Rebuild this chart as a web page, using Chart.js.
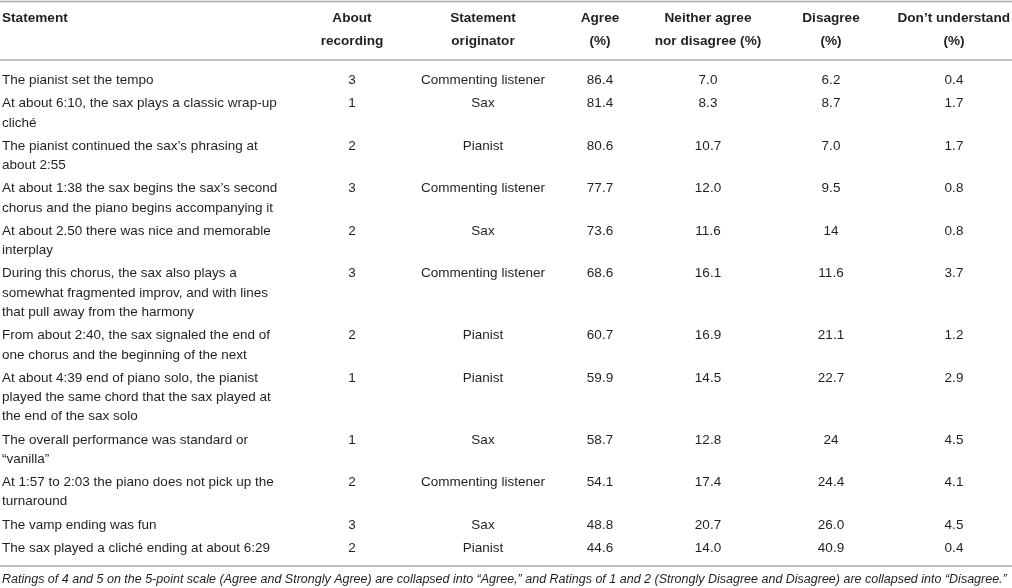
<!DOCTYPE html>
<html>
<head>
  <title>Statement ratings</title>
  <script src="https://cdn.jsdelivr.net/npm/chart.js"></script>
  <style>
    html, body { margin: 0; padding: 0; background: #fff; }
  </style>
</head>
<body>
  <canvas id="table-chart" width="1012" height="588"></canvas>
  <script>
    // Table data (statements are pre-split into their printed lines)
    const statements = [
      ['The pianist set the tempo'],
      ['At about 6:10, the sax plays a classic wrap-up', 'cliché'],
      ['The pianist continued the sax\u2019s phrasing at', 'about 2:55'],
      ['At about 1:38 the sax begins the sax\u2019s second', 'chorus and the piano begins accompanying it'],
      ['At about 2.50 there was nice and memorable', 'interplay'],
      ['During this chorus, the sax also plays a', 'somewhat fragmented improv, and with lines', 'that pull away from the harmony'],
      ['From about 2:40, the sax signaled the end of', 'one chorus and the beginning of the next'],
      ['At about 4:39 end of piano solo, the pianist', 'played the same chord that the sax played at', 'the end of the sax solo'],
      ['The overall performance was standard or', '\u201cvanilla\u201d'],
      ['At 1:57 to 2:03 the piano does not pick up the', 'turnaround'],
      ['The vamp ending was fun'],
      ['The sax played a cliché ending at about 6:29']
    ];
    const aboutRecording = [3, 1, 2, 3, 2, 3, 2, 1, 1, 2, 3, 2];
    const originator = ['Commenting listener', 'Sax', 'Pianist', 'Commenting listener', 'Sax', 'Commenting listener',
      'Pianist', 'Pianist', 'Sax', 'Commenting listener', 'Sax', 'Pianist'];
    const agree = ['86.4', '81.4', '80.6', '77.7', '73.6', '68.6', '60.7', '59.9', '58.7', '54.1', '48.8', '44.6'];
    const neither = ['7.0', '8.3', '10.7', '12.0', '11.6', '16.1', '16.9', '14.5', '12.8', '17.4', '20.7', '14.0'];
    const disagree = ['6.2', '8.7', '7.0', '9.5', '14', '11.6', '21.1', '22.7', '24', '24.4', '26.0', '40.9'];
    const dontUnderstand = ['0.4', '1.7', '1.7', '0.8', '0.8', '3.7', '1.2', '2.9', '4.5', '4.1', '4.5', '0.4'];
    const headers = [
      ['Statement'],
      ['About', 'recording'],
      ['Statement', 'originator'],
      ['Agree', '(%)'],
      ['Neither agree', 'nor disagree (%)'],
      ['Disagree', '(%)'],
      ['Don\u2019t understand', '(%)']
    ];
    const footnote = 'Ratings of 4 and 5 on the 5-point scale (Agree and Strongly Agree) are collapsed into \u201cAgree,\u201d and Ratings of 1 and 2 (Strongly Disagree and Disagree) are collapsed into \u201cDisagree.\u201d';

    // Layout (in scale units, which map 1:1 to the canvas)
    const colX = [2, 352, 483, 600, 708, 831, 954];
    const colAlign = ['left', 'center', 'center', 'center', 'center', 'center', 'center'];
    const headerY = [18, 41];
    const firstRowY = 80.5;
    const lineH = 19.3;
    const rowGap = 23.2;
    const rules = [1.5, 60, 566];
    const footY = 580;

    const rowY = [];
    let y = firstRowY;
    statements.forEach(lines => {
      rowY.push(y);
      y += (lines.length - 1) * lineH + rowGap;
    });

    const columns = [
      statements,
      aboutRecording.map(String),
      originator,
      agree,
      neither,
      disagree,
      dontUnderstand
    ];

    const datasets = columns.map((col, c) => ({
      label: headers[c].join(' '),
      texts: col,
      data: col.map((_, r) => ({ x: colX[c], y: rowY[r] })),
      pointRadius: 0,
      pointHoverRadius: 0
    }));

    const textColor = '#231f20';
    const ruleColor = '#a7a9ac';

    const tablePlugin = {
      id: 'tableText',
      afterDatasetsDraw(chart) {
        const ctx = chart.ctx;
        const xs = chart.scales.x;
        const ys = chart.scales.y;
        ctx.save();

        // rules
        ctx.strokeStyle = ruleColor;
        ctx.lineWidth = 1.5;
        rules.forEach(v => {
          const py = ys.getPixelForValue(v);
          ctx.beginPath();
          ctx.moveTo(xs.getPixelForValue(0), py);
          ctx.lineTo(xs.getPixelForValue(1012), py);
          ctx.stroke();
        });

        ctx.fillStyle = textColor;
        ctx.textBaseline = 'middle';

        // header
        ctx.font = 'bold 13.6px "Liberation Sans", Arial, sans-serif';
        headers.forEach((lines, c) => {
          ctx.textAlign = colAlign[c];
          const hx = c === headers.length - 1 ? 1010 : colX[c];
          lines.forEach((t, i) => {
            // the last header's first line is pinned to the right edge
            const align = (c === headers.length - 1 && i === 0) ? 'right' : colAlign[c];
            ctx.textAlign = align;
            ctx.fillText(t, xs.getPixelForValue(align === 'right' ? hx : colX[c]), ys.getPixelForValue(headerY[i]));
          });
        });

        // body cells
        ctx.font = '13.5px "Liberation Sans", Arial, sans-serif';
        const step = ys.getPixelForValue(lineH) - ys.getPixelForValue(0);
        chart.data.datasets.forEach((ds, c) => {
          const meta = chart.getDatasetMeta(c);
          ctx.textAlign = colAlign[c];
          meta.data.forEach((pt, r) => {
            const val = ds.texts[r];
            const lines = Array.isArray(val) ? val : [val];
            lines.forEach((t, i) => {
              ctx.fillText(t, pt.x, pt.y + i * step);
            });
          });
        });

        // footnote
        ctx.font = 'italic 12.5px "Liberation Sans", Arial, sans-serif';
        ctx.textAlign = 'left';
        ctx.fillText(footnote, xs.getPixelForValue(2), ys.getPixelForValue(footY));
        ctx.restore();
      }
    };

    const ctx = document.getElementById('table-chart').getContext('2d');
    new Chart(ctx, {
      type: 'scatter',
      data: { datasets: datasets },
      options: {
        responsive: false,
        animation: false,
        devicePixelRatio: 1,
        layout: { padding: 0 },
        plugins: {
          legend: { display: false },
          tooltip: { enabled: false }
        },
        scales: {
          x: { type: 'linear', min: 0, max: 1012, display: false },
          y: { type: 'linear', min: 0, max: 588, reverse: true, display: false }
        }
      },
      plugins: [tablePlugin]
    });
  </script>
</body>
</html>
